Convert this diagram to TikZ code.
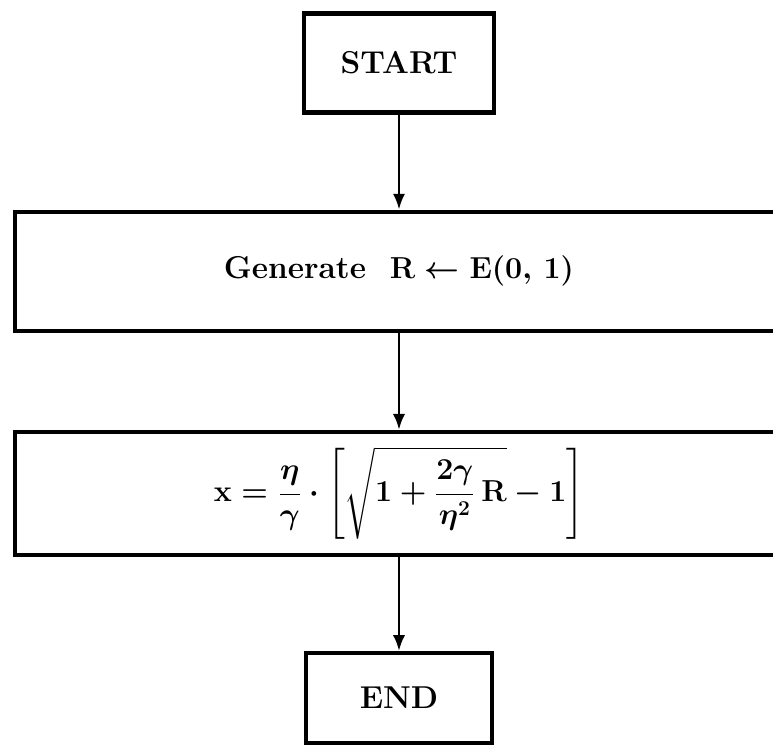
\documentclass[tikz,border=0pt]{standalone}
\usepackage{amsmath}
\usetikzlibrary{positioning,arrows.meta}
\tikzset{
  flowbox/.style={draw, line width=2.4pt,
                  font=\fontsize{18}{22}\selectfont\bfseries\boldmath,
                  align=center, inner sep=0pt},
  flowline/.style={line width=1.5pt, -{Latex[length=9pt,width=7pt]}},
}

\begin{document}
\begin{tikzpicture}[x=0.02cm, y=-0.02cm]

  \useasboundingbox (0,0) rectangle (773,754);
  \clip (0,0) rectangle (773,754);

  \node[flowbox, minimum width=3.8cm, minimum height=1.98cm] (start) at (399,63) {START};

  \node[flowbox, minimum width=15.36cm, minimum height=2.38cm,
        below=1.9cm of start] (gen) {Generate\ \ $\mathbf{R}\leftarrow\mathbf{E}(0,\,1)$};

  \node[flowbox, minimum width=15.36cm, minimum height=2.46cm,
        below=1.94cm of gen] (calc)
        {$\mathbf{x}=\dfrac{\eta}{\gamma}\cdot\left[\sqrt{1+\dfrac{2\gamma}{\eta^{2}}\,\mathbf{R}}-1\right]$};

  \node[flowbox, minimum width=3.72cm, minimum height=1.8cm,
        below=1.88cm of calc] (end) {END};

  \draw[flowline] (start) -- (gen);
  \draw[flowline] (gen) -- (calc);
  \draw[flowline] (calc) -- (end);

\end{tikzpicture}
\end{document}
